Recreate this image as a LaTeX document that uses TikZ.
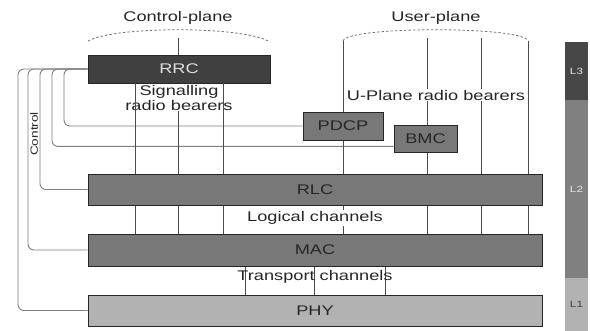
\documentclass[tikz,border=0pt]{standalone}
\usepackage{fontspec}
\setmainfont[FakeStretch=1.3]{Liberation Sans}
\usetikzlibrary{calc,backgrounds}
\begin{document}
\begin{tikzpicture}[x=1pt,y=-1pt,
  lbl/.style={font=\fontsize{14}{15}\selectfont, text=black!85, inner sep=1pt},
  layer/.style={draw=black!85, line width=0.9pt, fill=black!53, text=black!85,
    font=\fontsize{14}{15}\selectfont, inner sep=0pt},
  rrcbox/.style={layer, fill=black!75, text=black!12},
  phybox/.style={layer, fill=black!30},
  bearer/.style={draw=black!70, line width=1pt},
  ctrl/.style={draw=black!50, line width=0.9pt, rounded corners=6pt},
  plane/.style={draw=black!55, line width=0.8pt, dash pattern=on 2.5pt off 2pt},
  barseg/.style={inner sep=0pt, minimum width=23pt, font=\fontsize{9}{10}\selectfont}]
\useasboundingbox (0,0) rectangle (590,331);

% named coordinates
\coordinate (a1) at (135,0);
\coordinate (a2) at (178,0);
\coordinate (a3) at (223,0);
\coordinate (u1) at (343,41);
\coordinate (u2) at (427,38);
\coordinate (u3) at (481,38);
\coordinate (u4) at (528,41);
\coordinate (t1) at (245,0);
\coordinate (t2) at (314,0);
\coordinate (t3) at (385,0);
\coordinate (k1) at (18,100);
\coordinate (k2) at (28,100);
\coordinate (k3) at (40,100);
\coordinate (k4) at (52,100);
\coordinate (k5) at (64,100);
\coordinate (cpL) at (88,41);
\coordinate (cpR) at (268,41);
\coordinate (cpT) at (178,38);

% boxes
\path
  (179,69) node[rrcbox, minimum width=182pt, minimum height=28pt] (rrc) {RRC}
  (343,126) node[layer, minimum width=80pt, minimum height=28pt] (pdcp) {PDCP}
  (425.5,138.5) node[layer, minimum width=63pt, minimum height=27pt] (bmc) {BMC}
  (315,189.5) node[layer, minimum width=454pt, minimum height=31pt] (rlc) {RLC}
  (315,250) node[layer, minimum width=454pt, minimum height=32pt] (mac) {MAC}
  (315,310.5) node[phybox, minimum width=454pt, minimum height=31pt] (phy) {PHY};

% connectors behind the boxes
\begin{scope}[on background layer]
  % control lines
  \draw[ctrl] (rrc.west) -| (k5) |- (pdcp.west);
  \draw[ctrl] (rrc.west) -| (k4) |- ([yshift=6pt]bmc.south west);
  \draw[ctrl] (rrc.west) -| (k3) |- (rlc.west);
  \draw[ctrl] (rrc.west) -| (k2) |- (mac.west);
  \draw[ctrl] (rrc.west) -| (k1) |- (phy.west);
  % signalling radio bearers
  \draw[bearer] (rrc.south -| a1) -- (mac.north -| a1);
  \draw[bearer] (rrc.south -| a3) -- (mac.north -| a3);
  \draw[bearer] (rrc.south -| a2) -- (mac.north -| a2);
  % user plane bearers
  \draw[bearer] (u1) -- (mac.north -| u1);
  \draw[bearer] (u2) -- (mac.north -| u2);
  \draw[bearer] (u3) -- (mac.north -| u3);
  \draw[bearer] (u4) -- (mac.north -| u4);
  % transport channels
  \draw[bearer] (mac.south -| t1) -- (phy.north -| t1);
  \draw[bearer] (mac.south -| t2) -- (phy.north -| t2);
  \draw[bearer] (mac.south -| t3) -- (phy.north -| t3);
\end{scope}

% planes
\draw[plane] (cpL) .. controls (115,26) and (241,26) .. (cpR);
\draw[bearer] (cpT) -- (rrc.north -| cpT);
\draw[plane] (u1) .. controls (346,26) and (525,26) .. (u4);
\node[lbl] (cplane) at (178,18) {Control-plane};
\node[lbl] (uplane) at (436,18) {User-plane};

% labels
\node[lbl, fill=white, align=center, inner sep=0.5pt] (sig) at (179,97.5) {Signalling\\radio bearers};
\draw[bearer] (rrc.south -| a1) -- (rlc.north -| a1);
\draw[bearer] (rrc.south -| a3) -- (rlc.north -| a3);
\node[lbl, fill=white] (ub) at (436,95) {U-Plane radio bearers};
\node[lbl, fill=white] (logch) at (315,218) {Logical channels};
\node[lbl] (trch) at (315,277) {Transport channels};
\node[lbl, rotate=90, font=\fontsize{10.5}{11}\selectfont] (ctl) at (34,134) {Control};

% layer bar
\node[barseg, fill=black!72, text=black!10, minimum height=58pt] (l3) at (576.5,71) {L3};
\node[barseg, fill=black!50, text=black!10, minimum height=178pt] (l2) at (576.5,189) {L2};
\node[barseg, fill=black!30, text=black!75, minimum height=53pt] (l1) at (576.5,304.5) {L1};
\end{tikzpicture}
\end{document}
